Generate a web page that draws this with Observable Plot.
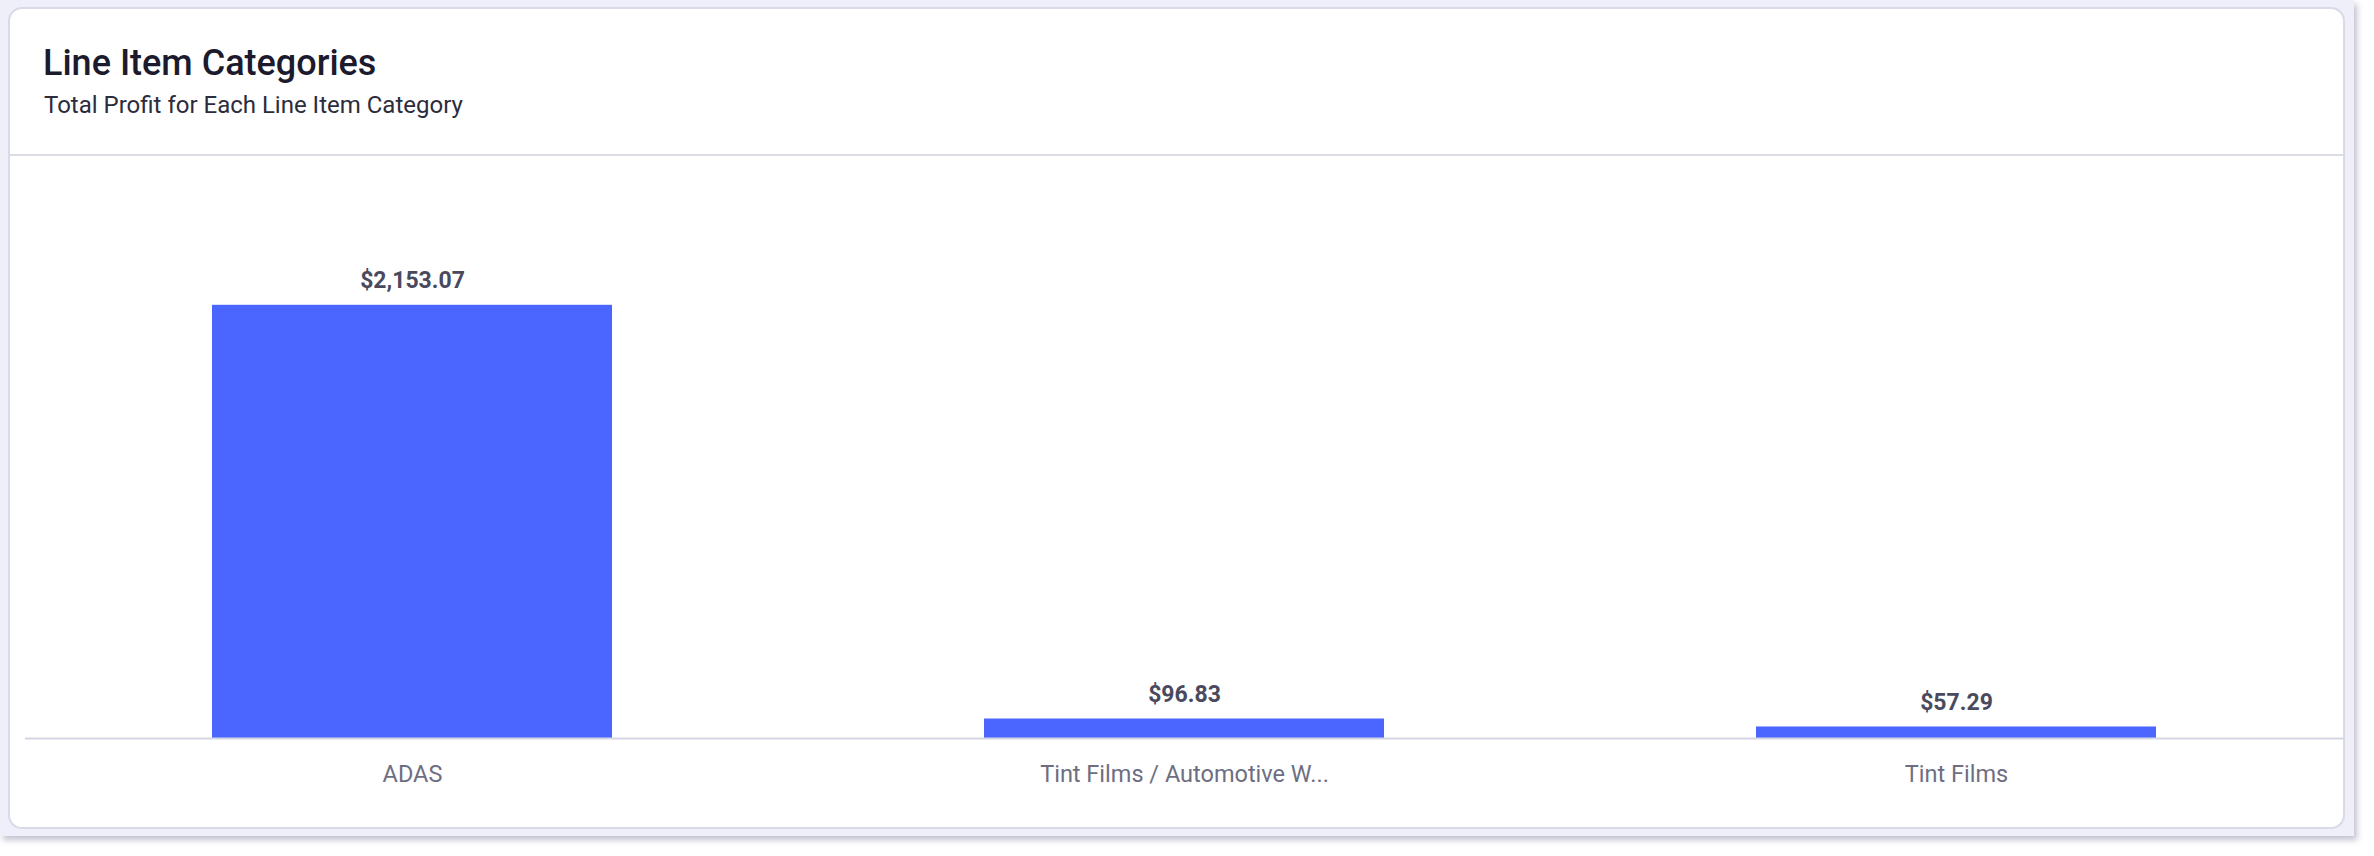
<!DOCTYPE html>
<html>
<head>
<meta charset="utf-8">
<script src="https://cdn.jsdelivr.net/npm/d3@7"></script>
<script src="https://cdn.jsdelivr.net/npm/@observablehq/plot@0.6"></script>
<style>
  html, body { margin: 0; padding: 0; background: #ffffff; width: 2374px; height: 856px; overflow: hidden; font-family: Roboto, "Noto Sans", sans-serif; }
  #outer { position: absolute; left: 0; top: 0; width: 2354px; height: 836px; background: #efeffa; box-shadow: 3px 4px 6px rgba(120,120,150,0.45); }
  #card { position: absolute; left: 8px; top: 7px; width: 2333px; height: 818px; background: #ffffff; border: 2px solid #d9d9e8; border-radius: 14px; box-sizing: content-box; overflow: hidden; }
  #title { position: absolute; left: 33px; top: 36px; font-size: 36px; font-weight: 500; color: #1b1b2d; line-height: 1; white-space: nowrap; }
  #subtitle { position: absolute; left: 34px; top: 84px; font-size: 24px; font-weight: 400; color: #2c2c3c; line-height: 1; white-space: nowrap; }
  #divider { position: absolute; left: 0; top: 145px; width: 100%; height: 2px; background: #dcdce6; }
  #chart { position: absolute; left: -10px; top: 146px; width: 2374px; height: 672px; }
  #chart svg { max-width: none !important; }
</style>
</head>
<body>
<div id="outer">
  <div id="card">
    <div id="title">Line Item Categories</div>
    <div id="subtitle">Total Profit for Each Line Item Category</div>
    <div id="divider"></div>
    <div id="chart"></div>
  </div>
</div>
<script>
const categories = ["ADAS", "Tint Films / Automotive W...", "Tint Films"];
const profits = [2153.07, 96.83, 57.29];
const valueLabels = ["$2,153.07", "$96.83", "$57.29"];

const data = categories.map((c, i) => ({category: c, profit: profits[i], label: valueLabels[i]}));

const chart = Plot.plot({
  width: 2374,
  height: 672,
  marginLeft: 25,
  marginRight: 31,
  marginTop: 80,
  marginBottom: 89,
  style: {fontFamily: "Roboto, sans-serif", background: "transparent", overflow: "visible", maxWidth: "none"},
  x: {domain: categories, paddingInner: 0.482, paddingOuter: 0.241, label: null},
  y: {domain: [0, 2500], axis: null},
  marks: [
    Plot.barY(data, {x: "category", y: "profit", fill: "#4a66ff"}),
    Plot.ruleY([0], {stroke: "#d5d5e3", strokeWidth: 2}),
    Plot.text(data, {x: "category", y: "profit", text: "label", dy: -17, lineAnchor: "bottom", fontSize: 23, fontWeight: 700, fill: "#4a4a5f"}),
    Plot.axisX({tickSize: 0, tickPadding: 27, fontSize: 23.5, color: "#6e6e82", label: null})
  ]
});
document.getElementById("chart").appendChild(chart);
</script>
</body>
</html>
